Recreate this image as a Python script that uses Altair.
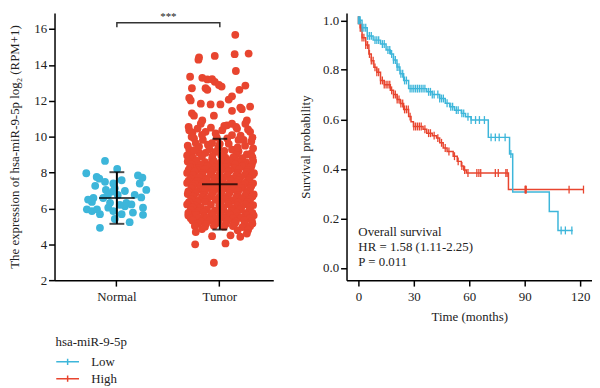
import altair as alt
import pandas as pd

FONT = "Liberation Serif"
TEXT = "#222222"
BLUE = "#3DB6DA"
RED = "#E8452F"

# ---------------- left panel: expression ----------------
groups = ["Normal", "Tumor"]
group_mean = [6.58, 7.35]
group_sd = [1.44, 2.53]
sig_text = "***"
bracket_groups = ["Normal", "Normal", "Tumor", "Tumor"]
bracket_values = [16.1, 16.35, 16.35, 16.1]

# (horizontal jitter within strip, expression value)
normal_points = [
    (-0.40, 8.65), (-1.03, 7.96), (-0.68, 7.75), (-0.59, 7.66), (0.01, 8.2),
    (0.71, 7.84), (0.86, 7.71), (-0.73, 7.26), (-0.40, 7.48), (-0.12, 7.39),
    (-0.07, 7.12), (-0.14, 6.94), (0.77, 7.39), (0.99, 7.03), (0.16, 7.57),
    (-0.79, 6.58), (-0.84, 6.36), (-0.46, 6.58), (-0.23, 6.31), (0.32, 6.31),
    (0.49, 6.22), (0.82, 6.61), (-1.01, 5.95), (-0.84, 5.85), (-0.29, 6.04),
    (-0.12, 5.85), (0.27, 6.12), (0.88, 6.04), (-0.57, 5.68), (0.16, 5.68),
    (0.54, 5.77), (0.88, 5.64), (-0.07, 5.41), (0.43, 5.23), (-0.57, 4.92),
    (-0.37, 7.03), (0.03, 6.75), (-0.30, 6.75), (0.27, 6.97), (-0.97, 6.49),
    (0.60, 6.76), (0.10, 6.2), (-0.67, 5.95),
]

tumor_points = [
    # sparse upper part
    (0.52, 15.68), (-0.70, 14.42), (-0.72, 14.29), (-0.17, 14.5), (0.50, 14.6),
    (0.97, 14.63), (0.54, 13.66), (-1.00, 13.34), (-0.59, 13.28), (-0.42, 13.19),
    (-0.26, 13.2), (-0.17, 13.06), (-0.94, 12.7), (-0.48, 12.7), (-0.42, 12.61),
    (-0.03, 12.88), (0.06, 12.79), (0.86, 12.85), (0.66, 12.61), (-1.03, 12.16),
    (-0.98, 12.02), (0.41, 12.25), (0.30, 12.07), (-0.64, 11.84), (-0.31, 11.8),
    (0.02, 11.8), (1.02, 11.68), (0.69, 11.62), (0.74, 11.53), (-0.94, 11.3),
    (-0.87, 11.17), (-0.20, 11.17), (0.41, 11.44), (-0.59, 10.9), (-0.64, 10.72),
    (0.91, 10.9), (0.86, 10.72), (0.24, 10.63), (0.41, 10.72), (0.58, 10.45),
    (-1.03, 10.36), (-0.92, 10.22), (-0.48, 10.27), (-0.14, 10.18), (0.08, 10.36),
    (1.06, 9.73), (-0.87, 9.91), (-0.81, 9.64), (-0.57, 9.82), (-0.26, 9.64),
    (0.63, 9.82), (0.80, 9.82), (0.41, 10.09), (1.02, 10.27), (-1.03, 9.28),
    (-0.94, 9.1), (-0.70, 9.1), (-0.48, 9.1), (0.91, 9.01), (0.41, 9.28),
    (0.63, 9.19), (0.19, 8.83), (-1.03, 8.74), (-0.81, 8.56), (-0.64, 8.38),
    (-0.48, 8.47), (-0.26, 8.74), (0.41, 8.56), (0.63, 8.47), (0.86, 8.38),
    (1.02, 8.29),
    # denser middle part
    (-1.05, 10.55), (-0.75, 10.45), (-0.30, 10.5), (0.15, 10.6), (0.55, 10.55),
    (0.95, 10.4), (-0.95, 10.0), (-0.60, 10.1), (-0.10, 9.95), (0.25, 9.9),
    (0.70, 10.05), (1.10, 9.95), (-1.08, 9.5), (-0.70, 9.45), (-0.40, 9.55),
    (-0.05, 9.4), (0.30, 9.6), (0.85, 9.5), (1.12, 9.35), (-0.85, 9.25),
    (-0.15, 9.15), (0.15, 9.2), (0.55, 9.0), (1.05, 9.05), (-1.10, 8.95),
    (-0.60, 8.9), (-0.25, 8.92), (0.05, 8.95), (0.45, 8.85), (0.75, 8.8),
    (1.10, 8.85), (-0.35, 9.3), (0.0, 9.6), (0.6, 9.4), (-0.9, 8.8),
    # solid core
    (-1.08, 8.62), (-0.78, 8.66), (-0.50, 8.58), (-0.20, 8.64), (0.05, 8.6),
    (0.30, 8.68), (0.60, 8.62), (0.88, 8.58), (1.12, 8.65),
    (-0.95, 8.45), (-0.62, 8.45), (-0.33, 8.42), (-0.05, 8.47), (0.22, 8.44),
    (0.52, 8.46), (0.80, 8.43), (1.08, 8.45),
    (-1.00, 8.3), (-0.72, 8.26), (-0.42, 8.35), (-0.12, 8.28), (0.18, 8.32),
    (0.48, 8.25), (0.75, 8.34), (1.05, 8.3),
    (-1.05, 8.15), (-0.78, 8.14), (-0.50, 8.17), (-0.24, 8.13), (0.06, 8.16),
    (0.35, 8.14), (0.64, 8.17), (0.95, 8.15),
    (-1.10, 7.98), (-0.85, 8.05), (-0.58, 7.96), (-0.30, 8.02), (0.00, 7.95),
    (0.28, 8.05), (0.60, 7.98), (0.90, 8.03), (1.15, 7.96),
    (-0.90, 7.85), (-0.60, 7.84), (-0.30, 7.87), (-0.02, 7.83), (0.26, 7.86),
    (0.55, 7.84), (0.85, 7.87), (1.10, 7.85),
    (-0.98, 7.68), (-0.70, 7.74), (-0.44, 7.66), (-0.15, 7.72), (0.12, 7.7),
    (0.42, 7.66), (0.70, 7.74), (1.00, 7.68),
    (-1.05, 7.55), (-0.76, 7.54), (-0.48, 7.57), (-0.20, 7.53), (0.08, 7.56),
    (0.36, 7.54), (0.64, 7.57), (0.94, 7.55),
    (-1.10, 7.42), (-0.84, 7.36), (-0.56, 7.44), (-0.28, 7.38), (0.02, 7.42),
    (0.30, 7.36), (0.56, 7.44), (0.84, 7.38), (1.12, 7.4),
    (-0.92, 7.25), (-0.62, 7.24), (-0.34, 7.27), (-0.06, 7.23), (0.22, 7.26),
    (0.50, 7.24), (0.78, 7.27), (1.06, 7.25),
    (-0.96, 7.12), (-0.68, 7.06), (-0.40, 7.14), (-0.12, 7.08), (0.16, 7.12),
    (0.44, 7.06), (0.72, 7.14), (1.02, 7.1),
    (-1.06, 6.95), (-0.80, 6.94), (-0.50, 6.97), (-0.22, 6.93), (0.06, 6.96),
    (0.34, 6.94), (0.62, 6.97), (0.92, 6.95),
    (-1.08, 6.8), (-0.82, 6.84), (-0.54, 6.76), (-0.26, 6.82), (0.04, 6.78),
    (0.32, 6.84), (0.60, 6.76), (0.88, 6.82), (1.14, 6.78),
    (-0.90, 6.65), (-0.60, 6.64), (-0.30, 6.67), (-0.02, 6.63), (0.26, 6.66),
    (0.56, 6.64), (0.84, 6.67), (1.10, 6.65),
    (-0.96, 6.52), (-0.70, 6.46), (-0.42, 6.54), (-0.14, 6.48), (0.18, 6.52),
    (0.46, 6.46), (0.74, 6.54), (1.02, 6.5),
    (-1.04, 6.35), (-0.76, 6.34), (-0.50, 6.37), (0.02, 6.33), (0.32, 6.36),
    (0.62, 6.34), (0.92, 6.37),
    (-1.10, 6.22), (-0.84, 6.16), (-0.30, 6.2), (-0.02, 6.18), (0.28, 6.24),
    (0.58, 6.16), (0.86, 6.22), (1.12, 6.18),
    (-0.92, 6.05), (-0.64, 6.04), (0.12, 6.06), (0.40, 6.03), (0.72, 6.06),
    (1.02, 6.05),
    (-0.98, 5.92), (-0.70, 5.86), (-0.44, 5.94), (-0.16, 5.88), (0.12, 5.92),
    (0.42, 5.86), (0.70, 5.94), (1.00, 5.9),
    (-1.06, 5.75), (-0.82, 5.74), (-0.54, 5.77), (-0.28, 5.73), (0.00, 5.76),
    (0.28, 5.74), (0.56, 5.77), (0.86, 5.73), (1.10, 5.75),
    (-1.06, 5.6), (-0.80, 5.64), (-0.52, 5.56), (-0.24, 5.62), (0.06, 5.58),
    (0.34, 5.64), (0.62, 5.56), (0.90, 5.62), (1.14, 5.6),
    (-0.98, 5.45), (-0.70, 5.44), (-0.44, 5.47), (-0.14, 5.43), (0.16, 5.46),
    (0.44, 5.44), (0.72, 5.47), (1.00, 5.45),
    (-0.92, 5.32), (-0.62, 5.26), (-0.34, 5.34), (-0.04, 5.28), (0.26, 5.32),
    (0.54, 5.26), (0.82, 5.34), (1.08, 5.3),
    (-0.74, 5.15), (-0.46, 5.14), (-0.12, 5.17), (0.20, 5.13), (0.50, 5.16),
    (0.84, 5.14), (1.10, 5.15),
    (-0.84, 5.02), (-0.50, 4.98), (-0.20, 5.04), (0.14, 4.98), (0.44, 5.02),
    (0.76, 4.96), (1.02, 5.0),
    (-0.60, 4.85), (0.60, 4.78), (0.95, 4.82),
    # low tail
    (-0.81, 4.68), (-0.26, 4.45), (0.36, 4.5), (0.69, 4.42), (0.94, 4.77),
    (0.91, 4.6), (-0.83, 4.0), (0.19, 4.05), (-0.20, 2.97),
]

# ---------------- right panel: Kaplan-Meier ----------------
low_time = [0, 2, 4.8, 8, 12, 15, 17.3, 19, 20.9, 22.5, 24.5, 27.2, 37, 40, 44, 47,
            49.4, 52, 55.7, 58, 61, 70.3, 81.8, 83.5, 103.3, 108, 116]
low_surv = [1.0, 0.97, 0.937, 0.92, 0.904, 0.88, 0.864, 0.84, 0.811, 0.784, 0.757,
            0.724, 0.711, 0.70, 0.684, 0.665, 0.651, 0.637, 0.624, 0.61, 0.597,
            0.527, 0.46, 0.306, 0.227, 0.151, 0.151]
high_time = [0, 1, 2, 4, 5.7, 7, 8.4, 10, 12, 14, 17.3, 19, 21, 22.7, 24.5, 27.2,
             28.5, 29.8, 35, 37, 40, 42.3, 44, 45.9, 48, 51.3, 53.5, 55.7, 57, 58.4,
             81.2, 122]
high_surv = [1.0, 0.97, 0.93, 0.9, 0.864, 0.837, 0.81, 0.79, 0.757, 0.74, 0.717,
             0.70, 0.68, 0.664, 0.64, 0.611, 0.59, 0.571, 0.56, 0.544, 0.534, 0.524,
             0.505, 0.484, 0.47, 0.451, 0.43, 0.411, 0.395, 0.383, 0.316, 0.316]
low_censor = [0, 0.5, 1, 2, 3, 4, 5, 6, 7, 9, 10, 11, 13, 14, 16, 17, 18, 19, 20, 21,
              22, 23, 24, 25, 26, 28, 29, 30, 31, 32, 33, 34, 35, 36, 38, 39, 40, 41,
              43, 44, 45, 46, 48, 50, 51, 53, 54, 56, 57, 59.3, 61, 63.4, 65.5, 68.2,
              71.8, 74.1, 76.2, 79.4, 82.5, 109.7, 112, 115.5]
high_censor = [0, 0.5, 1, 1.5, 2, 3, 4, 5, 6, 7, 8, 9, 10, 11, 12, 13, 14, 15, 16, 17,
               18, 19, 20, 21, 22, 23, 24, 25, 26, 27, 28, 30, 31, 32, 33, 34, 36, 38,
               39, 41, 43, 45, 47, 49, 52, 54, 56, 57.5, 59.3, 64.1, 65.2, 66.2, 74.1,
               75.7, 79.8, 80.5, 90.2, 90.5, 90.8, 114, 121.8]
km_note = ["Overall survival", "HR = 1.58 (1.11-2.25)", "P = 0.011"]
km_groups = ["Low", "High"]

# ---------------- tables ----------------
pts = pd.DataFrame(
    [("Normal", j, v) for j, v in normal_points] + [("Tumor", j, v) for j, v in tumor_points],
    columns=["group", "jitter", "value"],
)
summ = pd.DataFrame({"group": groups, "mean": group_mean, "sd": group_sd})
bracket_df = pd.DataFrame({"group": bracket_groups, "value": bracket_values,
                           "k": list(range(len(bracket_groups)))})
sig_df = pd.DataFrame({"group": ["Normal"], "jitter": [1.733], "value": [16.42], "label": [sig_text]})


def step_value(times, survs, t):
    s = survs[0]
    for tt, ss in zip(times, survs):
        if tt <= t:
            s = ss
    return s


km_rows = []
for g, ts, ss in [("High", high_time, high_surv), ("Low", low_time, low_surv)]:
    for i, (t, s) in enumerate(zip(ts, ss)):
        km_rows.append((g, t, s, i))
km = pd.DataFrame(km_rows, columns=["arm", "time", "surv", "k"])

cens_rows = [("High", t, step_value(high_time, high_surv, t)) for t in high_censor] + \
            [("Low", t, step_value(low_time, low_surv, t)) for t in low_censor]
cens = pd.DataFrame(cens_rows, columns=["arm", "time", "surv"])
note_df = pd.DataFrame({"time": [0], "surv": [0.168], "note": [km_note]})

# ---------------- left chart ----------------
xs = alt.Scale(domain=groups, paddingInner=0, paddingOuter=0.0625, align=0.846)
ys = alt.Scale(domain=[2, 16.9], nice=False, zero=False)
off = alt.Scale(domain=[-1.733, 1.733])
ytitle = "The expression of hsa-miR-9-5p log\u2082 (RPM+1)"
yaxis = alt.Axis(values=list(range(2, 17, 2)), title=ytitle, titlePadding=12)
X = alt.X("group:N", scale=xs, axis=alt.Axis(title=None, labelAngle=0, labelPadding=5))


def Yf(field):
    return alt.Y(field, scale=ys, axis=yaxis, title=ytitle)


dots = alt.Chart(pts).mark_circle(size=62, opacity=1).encode(
    x=X,
    xOffset=alt.XOffset("jitter:Q", scale=off),
    y=Yf("value:Q"),
    fill=alt.Fill("group:N", scale=alt.Scale(domain=groups, range=[BLUE, RED]), legend=None),
)
base_s = alt.Chart(summ).transform_calculate(lo="datum.mean - datum.sd", hi="datum.mean + datum.sd")
err = base_s.mark_rule(color="black", strokeWidth=2).encode(x=X, y=Yf("lo:Q"), y2="hi:Q")
cap_lo = base_s.mark_tick(color="black", size=15, thickness=2).encode(x=X, y=Yf("lo:Q"))
cap_hi = base_s.mark_tick(color="black", size=15, thickness=2).encode(x=X, y=Yf("hi:Q"))
mean_t = base_s.mark_tick(color="black", size=36, thickness=2).encode(x=X, y=Yf("mean:Q"))
bracket = alt.Chart(bracket_df).mark_line(color="#333333", strokeWidth=1.5).encode(
    x=X, y=Yf("value:Q"), order="k:Q")
sig = alt.Chart(sig_df).mark_text(font=FONT, fontSize=11, baseline="bottom", color=TEXT).encode(
    x=X, xOffset=alt.XOffset("jitter:Q", scale=off), y=Yf("value:Q"), text="label:N")

left = alt.layer(dots, err, cap_lo, cap_hi, mean_t, bracket, sig).properties(width=221, height=270)

# ---------------- right chart ----------------
XT = alt.X("time:Q", scale=alt.Scale(domain=[-6.4, 126.4], nice=False, zero=False),
           axis=alt.Axis(values=[0, 30, 60, 90, 120], title="Time (months)", titlePadding=7,
                         labelPadding=5))
YS = alt.Y("surv:Q", scale=alt.Scale(domain=[-0.05, 1.03], nice=False, zero=False),
           axis=alt.Axis(values=[0, 0.2, 0.4, 0.6, 0.8, 1.0], format=".1f",
                         title="Survival probability", titlePadding=10))
color_enc = alt.Color(
    "arm:N",
    scale=alt.Scale(domain=km_groups, range=[BLUE, RED]),
    legend=alt.Legend(
        title="hsa-miR-9-5p", orient="none", legendX=-294, legendY=327,
        symbolType="M-1,0L3,0M1,-0.55L1,0.55", symbolSize=132, symbolStrokeWidth=1.5,
        symbolFillColor="transparent",
        labelFont=FONT, labelFontSize=13, labelColor=TEXT, labelOffset=23,
        titleFont=FONT, titleFontSize=13, titleFontWeight="normal", titleColor=TEXT,
        titlePadding=6, rowPadding=3,
    ),
)
lines = alt.Chart(km).mark_line(interpolate="step-after", strokeWidth=1.5).encode(
    x=XT, y=YS, color=color_enc, order="k:Q")
marks = alt.Chart(cens).mark_point(shape="M0,-1L0,1", size=64, strokeWidth=1.3,
                                   filled=False, opacity=1).encode(x=XT, y=YS, color=color_enc)
note = alt.Chart(note_df).mark_text(font=FONT, fontSize=13, align="left", baseline="top",
                                    lineHeight=15, color=TEXT).encode(x=XT, y=YS, text="note")

right = alt.layer(lines, marks, note).properties(width=248, height=270)

chart = alt.hconcat(left, right, spacing=74, bounds="flush").resolve_scale(
    color="independent", fill="independent"
).properties(padding=0).configure_view(
    strokeWidth=0
).configure_axis(
    domainColor="black", domainWidth=1.5, tickColor="black", tickWidth=1.5, tickSize=6,
    labelFont=FONT, labelFontSize=13, labelColor=TEXT,
    titleFont=FONT, titleFontSize=13, titleFontWeight="normal", titleColor=TEXT, grid=False,
)

chart.save("out.html", embed_options={"renderer": "svg", "actions": False})
